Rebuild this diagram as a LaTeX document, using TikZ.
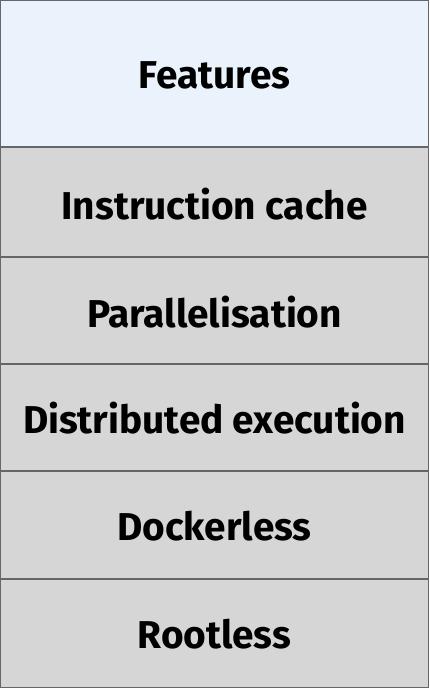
\documentclass[tikz,border=0pt]{standalone}
\usepackage{fontspec}
\setmainfont{Fira Sans}
\definecolor{topfill}{HTML}{EAF2FC}
\definecolor{grayfill}{HTML}{D6D6D6}
\definecolor{edge}{HTML}{666666}
\begin{document}
\begin{tikzpicture}[x=1pt,y=-1pt,
  cell/.style={draw=edge,line width=1.2pt,fill=grayfill},
  lab/.style={font=\fontsize{38.8}{44}\selectfont\bfseries,text=black}]
\useasboundingbox (0,0) rectangle (429,688);
\draw[cell,fill=topfill] (0.6,0.6) rectangle (428.4,147);
\node[lab] (features) at (214.5,75) {Features};
\draw[cell] (0.6,147) rectangle (428.4,257);
\node[lab] (cache) at (214.5,204) {Instruction cache};
\draw[cell] (0.6,257) rectangle (428.4,364);
\node[lab] (par) at (214.5,312) {Parallelisation};
\draw[cell] (0.6,364) rectangle (428.4,471);
\node[lab] (dist) at (214.5,418) {Distributed execution};
\draw[cell] (0.6,471) rectangle (428.4,579);
\node[lab] (docker) at (214.5,526) {Dockerless};
\draw[cell] (0.6,579) rectangle (428.4,687.4);
\node[lab] (root) at (214.5,634) {Rootless};
\end{tikzpicture}
\end{document}
